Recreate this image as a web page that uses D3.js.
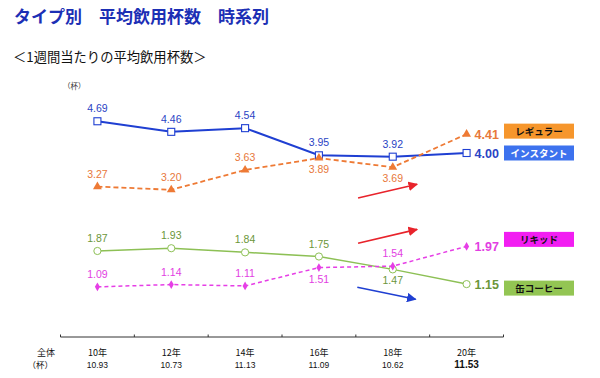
<!DOCTYPE html>
<html><head><meta charset="utf-8">
<script src="https://cdn.jsdelivr.net/npm/d3@7/dist/d3.min.js"></script>
<style>body{margin:0;background:#fff}svg{display:block}text{font-family:"Liberation Sans","Noto Sans CJK JP",sans-serif}</style>
</head><body><svg id="c" width="600" height="378"></svg>
<script>
const categories = ["10年","12年","14年","16年","18年","20年"];
const totals = ["10.93","10.73","11.13","11.09","10.62","11.53"];
const regular = [3.27,3.20,3.63,3.89,3.69,4.41];
const instant = [4.69,4.46,4.54,3.95,3.92,4.00];
const liquid = [1.09,1.14,1.11,1.51,1.54,1.97];
const canned = [1.87,1.93,1.84,1.75,1.47,1.15];
const seriesNames = ["レギュラー","インスタント","リキッド","缶コーヒー"];
// label position: 1 = above, -1 = below
const regularPos = [1,1,1,-1,-1];
const instantPos = [1,1,1,1,1];
const liquidPos = [1,1,1,-1,1];
const cannedPos = [1,1,1,1,-1];
// trend arrows [fromIndex, fromValue, toIndex, toValue]
const arrowsRed = [[3.53,3.02,4.33,3.32],[3.53,2.04,4.33,2.34]];
const arrowsBlue = [[3.52,1.08,4.31,0.82]];

const svg = d3.select("#c");
const x = d3.scaleBand().domain(categories).range([60.5,503.5]);
const y = d3.scaleLinear().domain([0,5.5]).range([337,84]);
const cx = c => x(c) + x.bandwidth()/2;
const xi = d3.scaleLinear().domain([0,5]).range([cx(categories[0]), cx(categories[5])]);

const JP = '"Noto Sans CJK JP",sans-serif';
svg.append("text").attr("x",14).attr("y",23).attr("fill","#1c2fb5").attr("font-weight","bold")
  .attr("font-size",17).style("font-family",JP).text("タイプ別　平均飲用杯数　時系列");
svg.append("text").attr("x",13).attr("y",62).attr("fill","#111").attr("font-size",13.3)
  .style("font-family",JP).text("＜1週間当たりの平均飲用杯数＞");
svg.append("text").attr("x",63).attr("y",89).attr("fill","#333").attr("font-size",7.5)
  .style("font-family",JP).text("（杯）");

// axis
const axisG = svg.append("g");
axisG.append("line").attr("x1",x.range()[0]).attr("x2",x.range()[1]).attr("y1",y(0)).attr("y2",y(0))
  .attr("stroke","#333").attr("stroke-width",1);
const bounds = categories.map(c=>x(c)).concat([x.range()[1]]);
axisG.selectAll(".tk").data(bounds).join("line").attr("x1",d=>d).attr("x2",d=>d)
  .attr("y1",y(0)).attr("y2",y(0)-2.5).attr("stroke","#333");
axisG.selectAll(".cat").data(categories).join("text").attr("x",d=>cx(d)).attr("y",356)
  .attr("text-anchor","middle").attr("font-size",9).attr("fill","#111").style("font-family",JP).text(d=>d);
axisG.selectAll(".tot").data(totals).join("text").attr("x",(d,i)=>cx(categories[i])).attr("y",368)
  .attr("text-anchor","middle").attr("font-size",i=>9).attr("fill","#111")
  .attr("font-weight",(d,i)=>i===5?"bold":"normal").attr("font-size",(d,i)=>i===5?10:8.5).text(d=>d);
svg.append("text").attr("x",55).attr("y",356).attr("text-anchor","end").attr("font-size",9).style("font-family",JP).attr("fill","#111").text("全体");
svg.append("text").attr("x",53).attr("y",368).attr("text-anchor","end").attr("font-size",8.5).style("font-family",JP).attr("fill","#111").text("（杯）");

const series = [
  {name:seriesNames[1], data:instant, pos:instantPos, color:"#1f3fd2", lab:"#2a43c4", dash:null, sym:"square", box:"#3d72ee", boxText:"#fff", w:2},
  {name:seriesNames[0], data:regular, pos:regularPos, color:"#ee7a35", lab:"#e8783a", dash:"5,3", sym:"triangle", box:"#f6962c", boxText:"#111", w:1.8},
  {name:seriesNames[3], data:canned, pos:cannedPos, color:"#8dc055", lab:"#6b963a", dash:null, sym:"circle", box:"#93c553", boxText:"#111", w:1.5},
  {name:seriesNames[2], data:liquid, pos:liquidPos, color:"#e63ee6", lab:"#e23ee2", dash:"4,3", sym:"diamond", box:"#f21ef2", boxText:"#111", w:1.5}
];
const line = d3.line().x((d,i)=>cx(categories[i])).y(d=>y(d));
series.forEach(s=>{
  const g = svg.append("g");
  g.append("path").datum(s.data).attr("d",line).attr("fill","none").attr("stroke",s.color)
    .attr("stroke-width",s.w).attr("stroke-dasharray",s.dash);
  const pts = g.selectAll(".p").data(s.data).join("g").attr("transform",(d,i)=>`translate(${cx(categories[i])},${y(d)})`);
  if(s.sym==="square") pts.append("rect").attr("x",-3.5).attr("y",-3.5).attr("width",7).attr("height",7).attr("fill","#fff").attr("stroke",s.color).attr("stroke-width",1.1);
  if(s.sym==="circle") pts.append("circle").attr("r",3.6).attr("fill","#fff").attr("stroke",s.color).attr("stroke-width",1);
  if(s.sym==="triangle") pts.append("path").attr("d",d3.symbol(d3.symbolTriangle,34)).attr("fill",s.color);
  if(s.sym==="diamond") pts.append("path").attr("d",d3.symbol(d3.symbolDiamond,22)).attr("fill",s.color);
  // value labels except last
  g.selectAll(".l").data(s.data.slice(0,5)).join("text")
    .attr("x",(d,i)=>cx(categories[i])).attr("y",(d,i)=>y(d)+(s.pos[i]>0?-9:15))
    .attr("text-anchor","middle").attr("font-size",10.5).attr("fill",s.lab).text(d=>d.toFixed(2));
  const last = s.data[5];
  g.append("text").attr("x",cx(categories[5])+8).attr("y",y(last)+4.5).attr("font-size",12.5)
    .attr("font-weight","bold").attr("fill",s.lab).text(last.toFixed(2));
});

// legend boxes next to end values
const legendY = {"レギュラー":y(regular[5])-3,"インスタント":y(instant[5]),"リキッド":y(liquid[5])-7,"缶コーヒー":y(canned[5])+4};
series.forEach(s=>{
  const cyv = legendY[s.name];
  svg.append("rect").attr("x",504).attr("y",cyv-7.5).attr("width",70).attr("height",15).attr("fill",s.box);
  svg.append("text").attr("x",539).attr("y",cyv+3.5).attr("text-anchor","middle").attr("font-size",9.5)
    .attr("font-weight","bold").attr("fill",s.boxText).style("font-family",JP).text(s.name);
});

// arrows
const defs = svg.append("defs");
[["red","#e8232b"],["blue","#1f3fd2"]].forEach(([id,c])=>{
  defs.append("marker").attr("id","ah-"+id).attr("viewBox","0 0 10 10").attr("refX",9).attr("refY",5)
    .attr("markerWidth",6).attr("markerHeight",6).attr("orient","auto")
    .append("path").attr("d","M0,0L10,5L0,10z").attr("fill",c);
});
function drawArrows(arr,id,c){
  svg.selectAll(".a-"+id).data(arr).join("line")
    .attr("x1",d=>xi(d[0])).attr("y1",d=>y(d[1])).attr("x2",d=>xi(d[2])).attr("y2",d=>y(d[3]))
    .attr("stroke",c).attr("stroke-width",1.6).attr("marker-end",`url(#ah-${id})`);
}
drawArrows(arrowsRed,"red","#e8232b");
drawArrows(arrowsBlue,"blue","#1f3fd2");
</script></body></html>
